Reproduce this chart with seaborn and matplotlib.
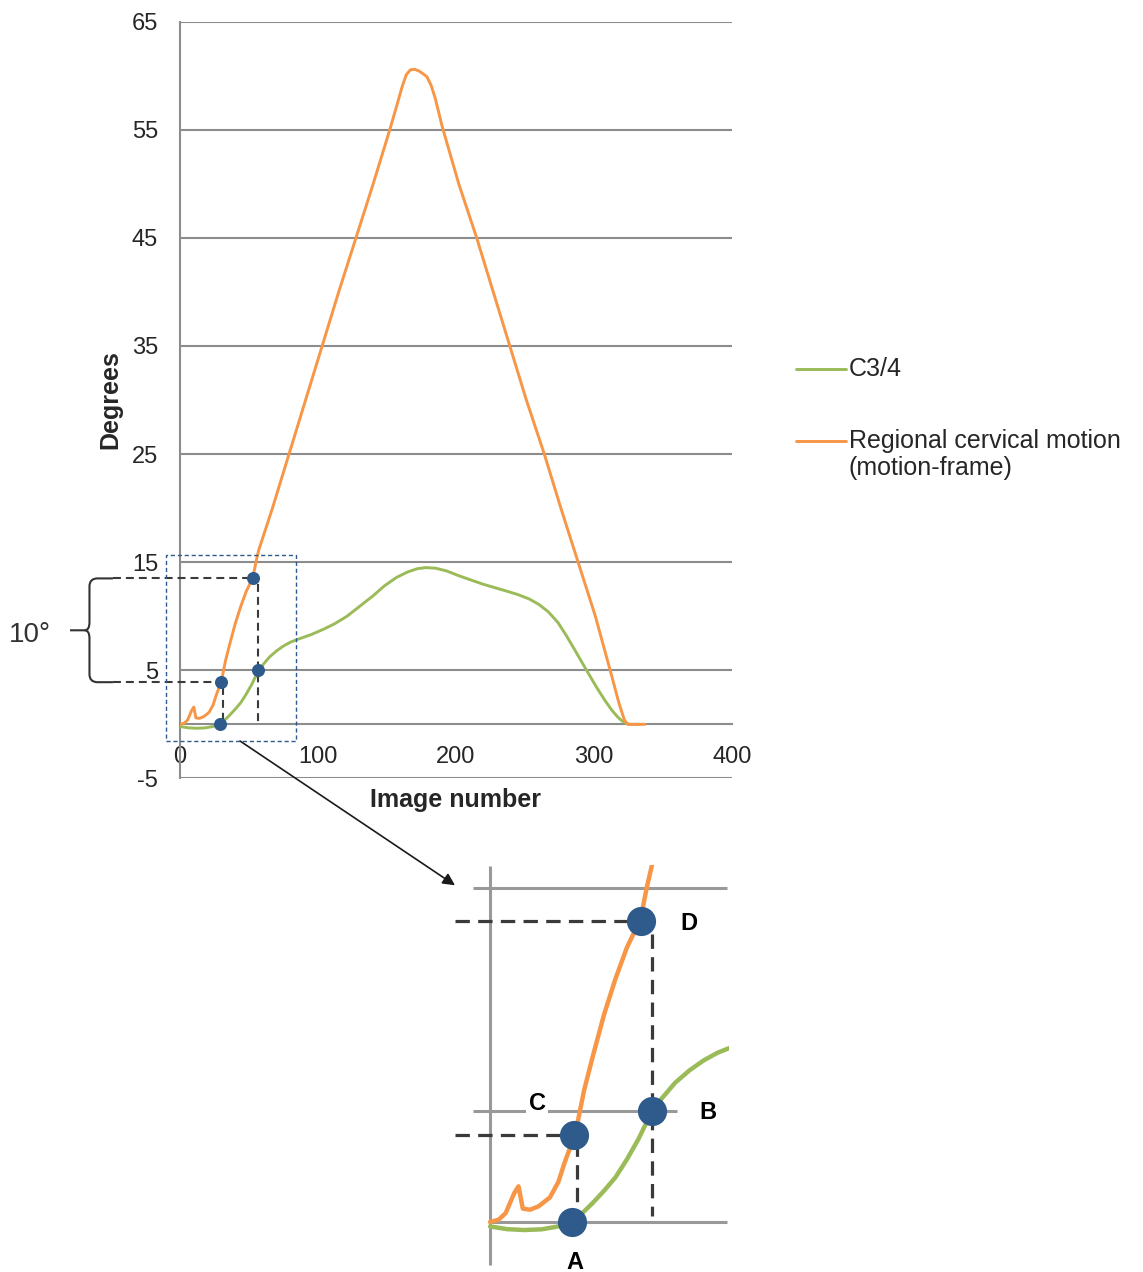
import numpy as np
import pandas as pd
import matplotlib
matplotlib.use("Agg")
import matplotlib.pyplot as plt
import seaborn as sns
from matplotlib.lines import Line2D
from matplotlib.patches import Rectangle, PathPatch
from matplotlib.path import Path

# regional cervical motion (motion-frame), degrees per image number
reg_x = [0, 3, 5.5, 8.5, 10, 11.5, 14, 17, 21, 24, 26, 28, 30, 33, 36, 40, 44, 48, 51, 53,
         55, 57, 67, 79, 91, 103, 115, 127.5, 140, 152, 157, 161, 164, 167, 170, 173, 176,
         179, 182, 185, 190, 202, 215, 227, 239, 251, 264, 276, 288.5, 301, 307, 313, 318,
         322, 324.5, 330, 337]
reg_y = [0, 0.1, 0.4, 1.3, 1.6, 0.6, 0.55, 0.7, 1.1, 1.8, 2.6, 3.3, 4.0, 5.9, 7.4, 9.3,
         10.9, 12.3, 13.1, 13.7, 15.0, 16.1, 20, 25, 30, 35, 40, 45, 50, 55, 57.2, 59.0,
         60.1, 60.55, 60.6, 60.45, 60.2, 59.9, 59.1, 57.9, 55.3, 50, 45, 40, 35, 30, 25,
         20, 15, 10, 7.2, 4.4, 2.0, 0.4, 0, 0, 0]

# C3/4 segment
c34_x = [0, 6, 12, 18, 23, 27, 29, 32, 36, 40, 44, 48, 52, 56, 60, 65, 70, 75, 80, 85, 95,
         104, 112, 121, 130, 140, 148, 157, 165, 172, 178, 185, 193, 202, 212, 220, 228,
         236, 245, 253, 260, 267, 274, 280, 286, 291, 296, 302, 308, 313, 317, 320, 323,
         326, 333]
c34_y = [-0.2, -0.32, -0.36, -0.33, -0.22, -0.1, 0.0, 0.35, 0.85, 1.4, 2.0, 2.8, 3.7, 4.75,
         5.5, 6.25, 6.8, 7.25, 7.6, 7.85, 8.3, 8.8, 9.3, 10.0, 10.9, 11.9, 12.8, 13.6, 14.1,
         14.4, 14.5, 14.45, 14.2, 13.75, 13.3, 12.95, 12.65, 12.35, 12.0, 11.6, 11.1, 10.4,
         9.4, 8.2, 6.9, 5.8, 4.7, 3.4, 2.2, 1.3, 0.7, 0.35, 0.1, 0.0, 0.0]

# picked points A-D
pt_names = ["A", "B", "C", "D"]
pt_x = [28.8, 56.8, 29.6, 53.0]
pt_y = [0.0, 5.0, 3.9, 13.5]

x_ticks = [0, 100, 200, 300, 400]
y_ticks = [-5, 5, 15, 25, 35, 45, 55, 65]

GREEN = "#9bbb59"
ORANGE = "#f79646"
GRID = "#8c8c8c"
BLUE = "#2f5b8c"
DASH = "#3a3a3a"
TXT = "#262626"

sns.set_style("white")
plt.rcParams["font.family"] = ["Liberation Sans", "DejaVu Sans"]
plt.rcParams["axes.unicode_minus"] = False

reg = pd.DataFrame({"Image number": reg_x, "Degrees": reg_y})
c34 = pd.DataFrame({"Image number": c34_x, "Degrees": c34_y})
pts = pd.DataFrame({"name": pt_names, "x": pt_x, "y": pt_y}).set_index("name")

W, H = 1143, 1272
fig = plt.figure(figsize=(W / 100, H / 100), dpi=100)

# main chart
ax = fig.add_axes([180 / W, 1 - 778.4 / H, 552 / W, 756.7 / H])
sns.lineplot(data=c34, x="Image number", y="Degrees", ax=ax, color=GREEN, lw=2.1, zorder=3)
sns.lineplot(data=reg, x="Image number", y="Degrees", ax=ax, color=ORANGE, lw=2.1, zorder=3)

ax.set_xlim(0, 400)
ax.set_ylim(-5, 65)
ax.set_xticks(x_ticks)
ax.set_yticks(y_ticks)
ax.yaxis.grid(True, color=GRID, lw=1.5)
ax.xaxis.grid(False)
for s in ["top", "right"]:
    ax.spines[s].set_visible(False)
ax.spines["left"].set_color(GRID)
ax.spines["left"].set_linewidth(1.5)
ax.spines["bottom"].set_color(GRID)
ax.spines["bottom"].set_linewidth(1.5)
ax.spines["bottom"].set_position(("data", 0))
ax.tick_params(axis="y", direction="out", length=5.8, width=1.5, color=GRID, pad=10,
               labelsize=17, labelcolor=TXT)
ax.tick_params(axis="x", direction="out", length=5.8, width=1.5, color=GRID, pad=10,
               labelsize=17, labelcolor=TXT)
ax.set_xlabel("Image number", fontsize=18, fontweight="bold", color=TXT)
ax.set_ylabel("Degrees", fontsize=18, fontweight="bold", color=TXT)
ax.xaxis.set_label_coords(0.5, -0.0127)
ax.yaxis.set_label_coords(-0.104, 0.5)

A, B, C, D = (pts.loc[n] for n in pt_names)
dash_main = dict(color=DASH, lw=1.5, ls=(0, (3.8, 2.4)), clip_on=False, zorder=4)
ax.plot([-48.6, D.x], [D.y, D.y], **dash_main)
ax.plot([-48.6, C.x], [C.y, C.y], **dash_main)
ax.plot([B.x, B.x], [D.y - 0.5, 0.2], **dash_main)
ax.plot([C.x + 1.3, C.x + 1.3], [C.y - 0.4, 0.4], **dash_main)
ax.plot(pts.x, pts.y, "o", color=BLUE, ms=9.4, mec="none", zorder=5, clip_on=False)

# brace marking the 10 degree span
bx, tip_x, arm_x = -65.6, -79.7, -48.6
mid = (D.y + C.y) / 2
rx, ry = 5.8, 0.74
top = Path([(arm_x, D.y), (bx + rx, D.y), (bx, D.y), (bx, D.y - ry), (bx, mid + ry),
            (bx, mid), (bx - rx * 0.6, mid), (tip_x, mid)],
           [Path.MOVETO, Path.LINETO, Path.CURVE3, Path.CURVE3, Path.LINETO,
            Path.CURVE3, Path.CURVE3, Path.LINETO])
bot = Path([(arm_x, C.y), (bx + rx, C.y), (bx, C.y), (bx, C.y + ry), (bx, mid - ry),
            (bx, mid), (bx - rx * 0.6, mid)],
           [Path.MOVETO, Path.LINETO, Path.CURVE3, Path.CURVE3, Path.LINETO,
            Path.CURVE3, Path.CURVE3])
for p in (top, bot):
    ax.add_patch(PathPatch(p, fill=False, ec="#333333", lw=1.5, clip_on=False, zorder=4))
fig.text(30 / W, 1 - 635 / H, "10°", fontsize=20, color="#333333", ha="center", va="center")

# zoom box
ax.add_patch(Rectangle((-10.1, -1.54), 94.2, 17.17, fill=False, ec=BLUE, lw=1.0,
                       ls=(0, (3, 2)), clip_on=False, zorder=4))

# legend
for yy, col in [(369, GREEN), (441, ORANGE)]:
    fig.add_artist(Line2D([796 / W, 846 / W], [1 - yy / H] * 2, color=col, lw=2.1))
fig.text(849 / W, 1 - 369 / H, "C3/4", fontsize=18, color=TXT, va="center")
fig.text(849 / W, 1 - 441 / H, "Regional cervical motion", fontsize=18, color=TXT, va="center")
fig.text(849 / W, 1 - 468 / H, "(motion-frame)", fontsize=18, color=TXT, va="center")

# enlarged view of the start of the motion
axin = fig.add_axes([453 / W, 1 - 1266.6 / H, 276.4 / W, 401.4 / H])
axin.set_xlim(-13, 84)
axin.set_ylim(-2, 16)
IGRID = "#999999"
axin.vlines(0, -1.93, 15.96, color=IGRID, lw=2.2, zorder=1)
axin.hlines(15, -6, 83.2, color=IGRID, lw=2.2, zorder=1)
axin.hlines(5, -6, 65.6, color=IGRID, lw=2.2, zorder=1)
axin.hlines(0, 0, 83.2, color=IGRID, lw=2.2, zorder=1)
sns.lineplot(data=c34, x="Image number", y="Degrees", ax=axin, color=GREEN, lw=3.2, zorder=3)
sns.lineplot(data=reg, x="Image number", y="Degrees", ax=axin, color=ORANGE, lw=3.2, zorder=3)
axin.axis("off")

dash_in = dict(color=DASH, lw=2.3, ls=(0, (4.5, 2.6)), zorder=4, clip_on=False)
axin.plot([-12.3, D.x], [D.y, D.y], **dash_in)
axin.plot([-12.3, C.x], [C.y, C.y], **dash_in)
axin.plot([B.x, B.x], [D.y - 0.6, 0.25], **dash_in)
axin.plot([C.x + 1.0, C.x + 1.0], [C.y - 0.3, -0.4], **dash_in)
axin.plot(pts.x, pts.y, "o", color=BLUE, ms=21, mec="none", zorder=5, clip_on=False)

lab_pos = {"A": (29.8, -1.8), "B": (76.5, 4.9), "C": (16.5, 5.3), "D": (69.8, 13.4)}
for n in pt_names:
    lx, ly = lab_pos[n]
    t = axin.text(lx, ly, n, fontsize=17, fontweight="bold", color="black",
                  ha="center", va="center", clip_on=False, zorder=6)
    if n == "C":
        t.set_bbox(dict(fc="white", ec="none", pad=1.5))

ax.annotate("", xy=(-12.3, 15.1), xycoords=axin.transData,
            xytext=(43.5, -1.54), textcoords=ax.transData,
            arrowprops=dict(arrowstyle="-|>", color="#1a1a1a", lw=1.2,
                            mutation_scale=18, shrinkA=0, shrinkB=0))

fig.savefig("out.png", dpi=100)
